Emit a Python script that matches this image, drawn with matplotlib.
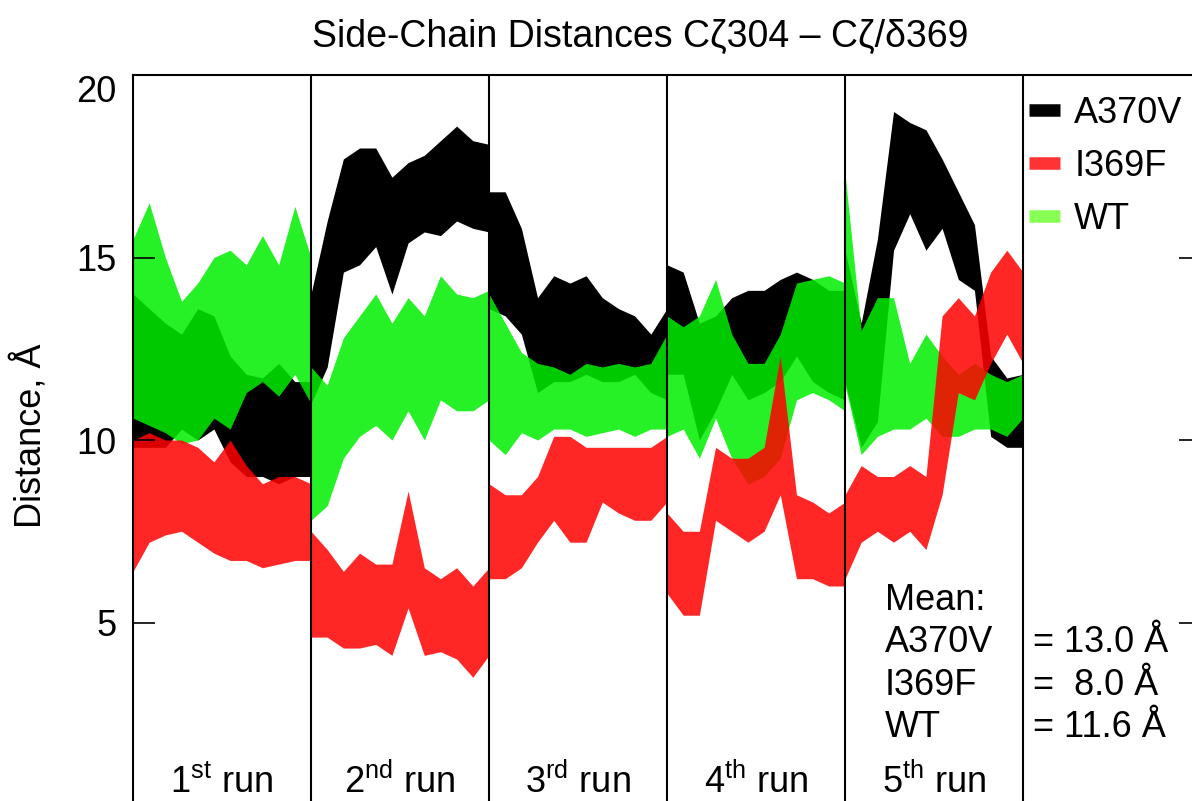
import matplotlib.pyplot as plt
from matplotlib.lines import Line2D
import numpy as np

plt.rcParams['font.family'] = ['Liberation Sans', 'DejaVu Sans']
plt.rcParams['mathtext.fontset'] = 'custom'
plt.rcParams['mathtext.rm'] = 'Liberation Sans'

# ---- data (dense band of the trajectories, 12 samples per run) ----
series = ['A370V', 'I369F', 'WT']
run_labels = [r'1$^{\mathrm{st}}$ run', r'2$^{\mathrm{nd}}$ run', r'3$^{\mathrm{rd}}$ run',
              r'4$^{\mathrm{th}}$ run', r'5$^{\mathrm{th}}$ run']
mean_values = [13.0, 8.0, 11.6]

a370v_hi = [14.0, 13.6, 13.2, 12.9, 13.6, 13.4, 12.3, 11.8, 11.7, 12.1, 11.6, 11.6,
            14.0, 16.0, 17.7, 18.0, 18.0, 17.2, 17.6, 17.8, 18.2, 18.6, 18.2, 18.1,
            16.8, 16.8, 15.8, 13.9, 14.5, 14.3, 14.5, 13.9, 13.6, 13.4, 12.9, 13.6,
            14.8, 14.6, 13.2, 13.4, 13.9, 14.1, 14.1, 14.4, 14.6, 14.4, 14.1, 14.1,
            15.2, 13.2, 15.5, 19.0, 18.7, 18.5, 17.7, 16.8, 15.9, 12.3, 11.7, 11.8]
a370v_lo = [9.8, 9.8, 9.8, 10.3, 10.0, 10.3, 9.4, 9.0, 9.0, 8.8, 9.0, 9.0,
            11.0, 12.0, 14.6, 14.8, 15.3, 14.0, 15.4, 15.7, 15.6, 16.0, 15.8, 15.7,
            13.6, 13.4, 12.9, 11.3, 11.6, 11.6, 11.8, 11.6, 11.6, 11.8, 11.3, 11.1,
            11.8, 11.8, 10.0, 10.8, 11.8, 11.1, 11.3, 11.6, 12.3, 11.6, 11.3, 11.1,
            11.6, 9.8, 10.5, 15.2, 16.2, 15.2, 15.8, 14.4, 14.1, 10.1, 9.8, 9.8]

i369f_hi = [10.0, 10.2, 10.0, 10.0, 9.8, 9.4, 10.0, 9.3, 8.8, 9.0, 9.0, 8.8,
            7.5, 7.0, 6.4, 6.9, 6.6, 6.6, 8.6, 6.5, 6.2, 6.5, 6.0, 6.5,
            8.8, 8.5, 8.5, 9.0, 10.1, 10.1, 9.8, 9.8, 9.8, 9.8, 9.8, 10.1,
            8.0, 7.5, 7.5, 9.8, 9.5, 9.5, 9.8, 12.3, 8.5, 8.3, 8.0, 8.3,
            8.5, 9.3, 9.0, 9.0, 9.3, 9.0, 13.4, 13.9, 13.4, 14.6, 15.2, 14.6]
i369f_lo = [6.4, 7.2, 7.4, 7.5, 7.2, 6.9, 6.7, 6.7, 6.5, 6.6, 6.7, 6.7,
            4.6, 4.6, 4.3, 4.3, 4.4, 4.1, 5.4, 4.1, 4.2, 4.0, 3.5, 4.1,
            6.2, 6.2, 6.5, 7.2, 7.8, 7.2, 7.2, 8.3, 8.0, 7.8, 7.8, 8.3,
            5.8, 5.2, 5.2, 7.8, 7.5, 7.2, 7.5, 8.5, 6.2, 6.2, 6.0, 6.0,
            6.2, 7.2, 7.5, 7.2, 7.5, 7.0, 8.5, 11.3, 11.1, 12.1, 12.9, 12.1]

wt_hi = [15.5, 16.5, 15.0, 13.8, 14.3, 15.0, 15.2, 14.8, 15.6, 14.8, 16.4, 15.0,
         12.0, 11.5, 12.8, 13.4, 14.0, 13.2, 13.9, 13.4, 14.5, 14.0, 13.9, 14.1,
         14.0, 13.2, 12.4, 12.1, 12.0, 11.8, 12.1, 12.0, 12.1, 12.0, 12.1, 12.9,
         13.4, 13.1, 13.4, 14.4, 12.9, 12.1, 12.1, 12.9, 14.3, 14.4, 14.5, 14.3,
         17.3, 13.0, 13.9, 13.9, 12.1, 12.9, 12.3, 11.8, 12.1, 11.8, 11.6, 11.8]
wt_lo = [10.6, 10.4, 10.2, 9.9, 10.0, 10.6, 10.3, 11.3, 11.6, 11.2, 11.8, 11.0,
         7.8, 8.2, 9.5, 10.1, 10.4, 10.0, 10.8, 10.0, 11.1, 10.8, 10.8, 11.1,
         10.0, 9.6, 10.2, 10.0, 10.3, 10.3, 10.1, 10.2, 10.3, 10.1, 10.3, 10.3,
         10.1, 10.3, 9.5, 10.6, 9.5, 8.8, 9.0, 9.5, 11.1, 11.3, 11.1, 10.8,
         11.5, 9.6, 10.1, 10.3, 10.3, 10.6, 10.1, 10.1, 10.3, 10.3, 10.1, 10.6]

n_runs = 5
n_samp = 12

fig = plt.figure(figsize=(11.92, 8.01), dpi=100)
ax = fig.add_axes([133 / 1192, -4 / 801, 1068 / 1192, 730 / 801])

# draw order: black, green, red
bands = [(a370v_lo, a370v_hi, '#000000', 1.0),
         (wt_lo, wt_hi, '#00ee00', 0.85),
         (i369f_lo, i369f_hi, '#ff0000', 0.85)]
for lo, hi, col, al in bands:
    lo = np.array(lo).reshape(n_runs, n_samp)
    hi = np.array(hi).reshape(n_runs, n_samp)
    for r in range(n_runs):
        x = r + np.linspace(0, 1, n_samp)
        ax.fill_between(x, lo[r], hi[r], color=col, lw=0, alpha=al)

for r in range(1, n_runs + 1):
    ax.axvline(r, color='black', lw=1.5)

ax.set_xlim(0, 6)
ax.set_ylim(0, 20)
ax.set_xticks([])
ax.set_yticks([5, 10, 15, 20])
ax.tick_params(axis='y', direction='in', length=16, width=1.2, labelsize=26,
               pad=12, left=True, right=True)
ax.yaxis.get_major_ticks()[-1].label1.set_va('top')
for s in ax.spines.values():
    s.set_linewidth(1.5)

# run labels
for r, lab in enumerate(run_labels):
    ax.text(r + 0.5, 0.33, lab, ha='center', va='baseline', fontsize=26)

# mean block
ax.text(4.225, 5.34, 'Mean:', fontsize=26, va='baseline')
rows_y = [4.19, 3.01, 1.86]
for name, v, yy in zip(series, mean_values, rows_y):
    ax.text(4.225, yy, name, fontsize=26, va='baseline')
    ax.text(5.056, yy, f'= {v:4.1f} Å', fontsize=26, va='baseline')

# legend
handles = [Line2D([], [], color=c, lw=9, solid_capstyle='butt')
           for c in ['#000000', '#ff3333', '#88ff55']]
ax.legend(handles, series, loc='upper left', bbox_to_anchor=(1029 / 1192, 1 - 96 / 801),
          bbox_transform=fig.transFigure, frameon=False, fontsize=26,
          handlelength=0.85, handletextpad=0.4, labelspacing=0.5,
          borderpad=0, borderaxespad=0)

fig.text(640 / 1192, 1 - 37 / 801, 'Side-Chain Distances Cζ304 – Cζ/δ369',
         ha='center', va='center', fontsize=27)
fig.text(30 / 1192, 1 - 436 / 801, 'Distance, Å', rotation=90,
         ha='center', va='center', fontsize=26)

fig.savefig('out.png', dpi=100)
